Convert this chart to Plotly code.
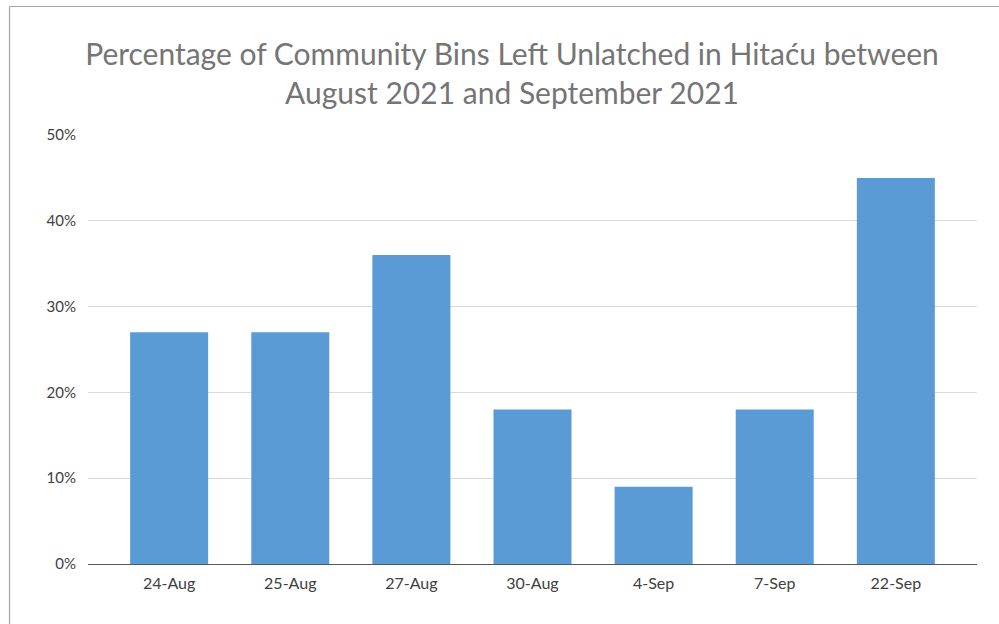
import plotly.graph_objects as go

categories = ["24-Aug", "25-Aug", "27-Aug", "30-Aug", "4-Sep", "7-Sep", "22-Sep"]
values = [0.27, 0.27, 0.36, 0.18, 0.09, 0.18, 0.45]
y_ticks = [0, 0.1, 0.2, 0.3, 0.4, 0.5]
y_tick_labels = ["0%", "10%", "20%", "30%", "40%", "50%"]
title_text = "Percentage of Community Bins Left Unlatched in Hitaću between<br>August 2021 and September 2021"

W, H = 999, 624
ml, mr, mt, mb = 88, 22, 135, 60
pw = W - ml - mr
ph = H - mt - mb

def px_x(x):
    return (x - ml) / pw

def px_y(y):
    return (H - mb - y) / ph

FONT = "Lato, Open Sans, sans-serif"
pad = 0.17

fig = go.Figure()
fig.add_trace(go.Bar(
    x=categories, y=values,
    marker=dict(color="#5B9BD5", line=dict(width=0)),
    hoverinfo="x+y",
))

fig.update_layout(
    width=W, height=H,
    margin=dict(l=ml, r=mr, t=mt, b=mb),
    paper_bgcolor="white", plot_bgcolor="white",
    font=dict(family=FONT, color="#595959"),
    bargap=0.356,
    showlegend=False,
    title=dict(
        text=title_text,
        x=512 / W, xanchor="center",
        y=1 - 65 / H, yanchor="middle",
        yref="container",
        font=dict(size=30, color="#757575", family=FONT),
    ),
    xaxis=dict(
        showgrid=False, showline=True, linecolor="#595959", linewidth=1,
        ticks="", tickfont=dict(size=16, color="#404040"),
        range=[-0.5 - pad, 6.5 + pad],
        ticklabelstandoff=5,
    ),
    yaxis=dict(
        range=[0, 0.5], tickvals=y_ticks, ticktext=y_tick_labels,
        showgrid=True, gridcolor="#D9D9D9", gridwidth=1,
        zeroline=False, showline=False, ticks="",
        tickfont=dict(size=15, color="#404040"),
        ticklabelstandoff=11,
    ),
    shapes=[
        dict(type="line", xref="paper", yref="paper",
             x0=px_x(9.5), x1=px_x(9.5), y0=px_y(6.5), y1=px_y(H + 5),
             line=dict(color="#A6A6A6", width=1.2)),
        dict(type="line", xref="paper", yref="paper",
             x0=px_x(9.5), x1=px_x(W + 5), y0=px_y(6.5), y1=px_y(6.5),
             line=dict(color="#A6A6A6", width=1.2)),
    ],
)

fig.write_html("out.html", config={"displayModeBar": False},
               post_script="document.body.style.margin='0';document.body.style.padding='0';")
